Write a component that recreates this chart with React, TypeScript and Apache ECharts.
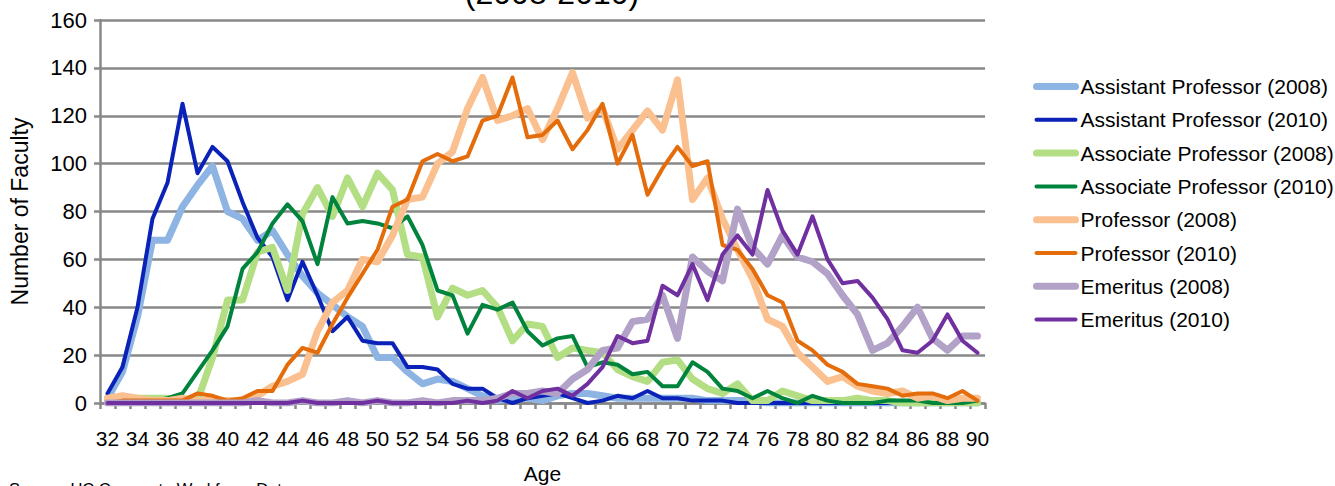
import React, { useEffect, useRef } from "react";
import * as echarts from "echarts";

const ages = [
  "32","33","34","35","36","37","38","39","40","41","42","43","44","45","46","47","48","49","50","51",
  "52","53","54","55","56","57","58","59","60","61","62","63","64","65","66","67","68","69","70","71",
  "72","73","74","75","76","77","78","79","80","81","82","83","84","85","86","87","88","89","90",
];

const yTicksMax = 160;
const yTickStep = 20;

// 32..90
const assistant2008 = [
  2, 13, 36, 68, 68, 82, 91, 99, 80, 77, 68, 72, 62, 53, 46, 41, 36, 32, 19, 19,
  13, 8, 10, 9, 6, 3, 1, 2, 2, 1, 3, 4, 4, 3, 2, 2, 2, 2, 2, 2,
  1, 1, 1, 1, 0, 0, 0, 0, 0, 0, 0, 0, 0, 0, 0, 0, 0, 0, 0,
];
const assistant2010 = [
  4, 15, 40, 77, 92, 125, 96, 107, 101, 84, 69, 61, 43, 59, 45, 30, 36, 26, 25, 25,
  15, 15, 14, 8, 6, 6, 2, 0, 2, 3, 4, 2, 0, 1, 3, 2, 5, 2, 2, 1,
  1, 1, 0, 0, 0, 0, 0, 0, 0, 0, 0, 0, 0, 0, 0, 0, 0, 0, 0,
];
const associate2008 = [
  1, 1, 2, 2, 2, 1, 1, 19, 43, 43, 63, 65, 47, 79, 90, 78, 94, 82, 96, 89,
  62, 61, 36, 48, 45, 47, 40, 26, 33, 32, 19, 23, 22, 21, 14, 11, 9, 17, 18, 10,
  6, 4, 8, 1, 1, 5, 3, 1, 1, 1, 2, 1, 1, 0, 0, 0, 0, 0, 0,
];
const associate2010 = [
  1, 1, 1, 1, 2, 4, 13, 22, 32, 56, 63, 75, 83, 76, 58, 86, 75, 76, 75, 73,
  78, 66, 47, 45, 29, 41, 39, 42, 30, 24, 27, 28, 15, 17, 16, 12, 13, 7, 7, 17,
  13, 6, 5, 2, 5, 2, 0, 3, 1, 0, 0, 0, 1, 1, 1, 0, 0, 0, 1,
];
const professor2008 = [
  2, 3, 2, 1, 1, 2, 1, 1, 1, 1, 3, 7, 9, 12, 30, 42, 47, 60, 59, 70,
  85, 86, 100, 105, 123, 136, 118, 120, 123, 110, 123, 138, 119, 123, 106, 114, 122, 114, 135, 85,
  94, 77, 64, 52, 35, 32, 21, 15, 9, 11, 7, 5, 4, 5, 2, 3, 1, 2, 2,
];
const professor2010 = [
  0, 1, 1, 1, 1, 1, 4, 3, 1, 2, 5, 5, 16, 23, 21, 33, 44, 54, 64, 82,
  85, 101, 104, 101, 103, 118, 120, 136, 111, 112, 118, 106, 114, 125, 100, 112, 87, 98, 107, 99,
  101, 66, 64, 56, 45, 42, 26, 22, 16, 13, 8, 7, 6, 3, 4, 4, 2, 5, 1,
];
const emeritus2008 = [
  0, 0, 0, 0, 0, 0, 0, 0, 0, 0, 1, 0, 0, 1, 0, 0, 1, 0, 1, 0,
  0, 1, 0, 1, 1, 1, 2, 4, 4, 5, 4, 10, 14, 22, 23, 34, 35, 45, 27, 61,
  55, 51, 81, 65, 58, 70, 61, 59, 54, 45, 37, 22, 25, 32, 40, 27, 22, 28, 28,
];
const emeritus2010 = [
  0, 0, 0, 0, 0, 0, 0, 0, 0, 0, 0, 0, 0, 1, 0, 0, 0, 0, 1, 0,
  0, 0, 0, 0, 1, 0, 1, 5, 2, 5, 6, 3, 8, 15, 28, 25, 26, 49, 45, 58,
  43, 62, 70, 62, 89, 72, 62, 78, 60, 50, 51, 44, 35, 22, 21, 26, 37, 26, 21,
];

const seriesNames = [
  "Assistant Professor (2008)",
  "Assistant Professor (2010)",
  "Associate Professor (2008)",
  "Associate Professor (2010)",
  "Professor (2008)",
  "Professor (2010)",
  "Emeritus (2008)",
  "Emeritus (2010)",
];
const seriesData = [
  assistant2008, assistant2010, associate2008, associate2010,
  professor2008, professor2010, emeritus2008, emeritus2010,
];
const seriesColors = [
  "#8DB4E2", "#0A22B8", "#B3DE84", "#00843D",
  "#FAC090", "#E46C0A", "#B2A2C7", "#7030A0",
];
const seriesWidths = [7, 4, 7, 4, 7, 4, 7, 4];

const FONT = "'Liberation Sans', Arial, sans-serif";
const GRID = "#888888";

export default function App() {
  const ref = useRef<HTMLDivElement>(null);
  useEffect(() => {
    if (!ref.current) return;
    const chart = echarts.init(ref.current, undefined, { renderer: "svg" });
    const option: any = {
      animation: false,
      textStyle: { fontFamily: FONT },
      grid: {
        left: 100,
        right: 350,
        top: 20,
        bottom: 83,
        containLabel: false,
        outerBoundsMode: "none",
      },
      legend: {
        orient: "vertical",
        left: 1028,
        top: 71,
        itemWidth: 39,
        itemHeight: 14,
        itemGap: 12.3,
        data: seriesNames,
        textStyle: { fontSize: 21, color: "#000", fontFamily: FONT, lineHeight: 21 },
        lineStyle: { width: "inherit", cap: "round" },
        itemStyle: { opacity: 0 },
        selectedMode: false,
      },
      xAxis: {
        type: "category",
        data: ages,
        boundaryGap: true,
        name: "Age",
        nameLocation: "middle",
        nameGap: 60,
        nameTextStyle: { fontSize: 21, color: "#000", fontFamily: FONT },
        axisLine: { show: true, lineStyle: { color: GRID, width: 2.5 } },
        axisTick: { show: true, interval: 0, length: 6, lineStyle: { color: GRID, width: 2.5 } },
        axisLabel: { interval: 1, fontSize: 21, color: "#000", margin: 25, fontFamily: FONT },
        splitLine: { show: false },
      },
      yAxis: {
        type: "value",
        min: 0,
        max: yTicksMax,
        interval: yTickStep,
        name: "Number of Faculty",
        nameLocation: "middle",
        nameGap: 69,
        nameRotate: 90,
        nameTextStyle: { fontSize: 23, color: "#000", fontFamily: FONT },
        axisLine: { show: true, lineStyle: { color: GRID, width: 2.5 } },
        axisTick: { show: true, length: 6, lineStyle: { color: GRID, width: 2.5 } },
        axisLabel: { fontSize: 22, color: "#000", margin: 13, fontFamily: FONT },
        splitLine: { show: true, lineStyle: { color: GRID, width: 2.5 } },
      },
      graphic: [
        {
          type: "text",
          x: 552,
          y: 9,
          style: {
            text: "(2008-2010)",
            fontSize: 32,
            fontFamily: FONT,
            fill: "#000",
            align: "center",
            verticalAlign: "bottom",
          },
        },
        {
          type: "text",
          x: 9,
          y: 480,
          style: {
            text: "Source: UC Corporate Workforce Data",
            fontSize: 16.5,
            fontFamily: FONT,
            fill: "#000",
            align: "left",
            verticalAlign: "top",
          },
        },
      ],
      series: seriesNames.map((name, i) => ({
        name,
        type: "line",
        data: seriesData[i],
        symbol: "none",
        showSymbol: false,
        smooth: false,
        color: seriesColors[i],
        lineStyle: { color: seriesColors[i], width: seriesWidths[i], join: "round", cap: "round" },
        emphasis: { disabled: true },
        silent: true,
      })),
    };
    chart.setOption(option);
    return () => chart.dispose();
  }, []);
  return (
    <div
      ref={ref}
      style={{ position: "absolute", left: 0, top: 0, width: 1335, height: 486, background: "#fff" }}
    />
  );
}
